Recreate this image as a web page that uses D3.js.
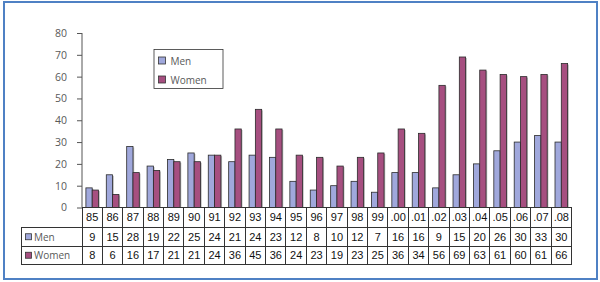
<!DOCTYPE html>
<html>
<head>
<meta charset="utf-8">
<script src="https://cdn.jsdelivr.net/npm/d3@7"></script>
<style>
    body { margin: 0; background: #fff; }
    svg { display: block; }
</style>
</head>
<body>
<div id="chart"></div>
<script>
"use strict";

const categories = ["85", "86", "87", "88", "89", "90", "91", "92", "93", "94", "95", "96",
    "97", "98", "99", ".00", ".01", ".02", ".03", ".04", ".05", ".06", ".07", ".08"];
const series = ["Men", "Women"];
const menValues = [9, 15, 28, 19, 22, 25, 24, 21, 24, 23, 12, 8, 10, 12, 7, 16, 16, 9, 15, 20, 26, 30, 33, 30];
const womenValues = [8, 6, 16, 17, 21, 21, 24, 36, 45, 36, 24, 23, 19, 23, 25, 36, 34, 56, 69, 63, 61, 60, 61, 66];
const yTicks = [0, 10, 20, 30, 40, 50, 60, 70, 80];

const COLORS = {Men: "#A0A8DC", Women: "#A64F80"};
const AXIS_FONT = "'Open Sans', 'DejaVu Sans', sans-serif";
const TABLE_FONT = "'Liberation Sans', Arial, sans-serif";

function buildChart() {
    const width = 600, height = 282;
    const svg = d3.select("#chart").append("svg")
        .attr("width", width)
        .attr("height", height);

    // outer frame
    svg.append("rect")
        .attr("x", 4).attr("y", 2)
        .attr("width", 593).attr("height", 277)
        .attr("fill", "#fff")
        .attr("stroke", "#4F81C4")
        .attr("stroke-width", 2);

    const plotLeft = 82, plotRight = 571.5;
    const y = d3.scaleLinear().domain([0, 80]).range([207.5, 33]);
    const x = d3.scaleBand().domain(categories).range([plotLeft, plotRight]).padding(0);
    const barsW = 12.6;
    const x1 = d3.scaleBand().domain(series).range([0, barsW]);
    const valuesOf = {Men: menValues, Women: womenValues};

    // y axis
    const yAxis = d3.axisLeft(y).tickValues(yTicks).tickSize(5).tickPadding(10);
    const gy = svg.append("g")
        .attr("transform", "translate(" + plotLeft + ",0)")
        .call(yAxis);
    gy.select(".domain").attr("stroke", "#555").attr("d", "M0," + y(80) + "V" + y(0));
    gy.selectAll(".tick line").attr("stroke", "#555");
    gy.selectAll(".tick text")
        .attr("fill", "#595959")
        .style("font-family", AXIS_FONT)
        .style("font-size", "10.5px");

    // bars
    const groups = svg.append("g").selectAll("g")
        .data(categories)
        .enter()
        .append("g")
        .attr("transform", function (d) {
            return "translate(" + (x(d) + (x.bandwidth() - barsW) / 2) + ",0)";
        });
    series.forEach(function (s) {
        // soft shadow
        groups.append("rect")
            .attr("x", function () { return x1(s) + 1.2; })
            .attr("y", function (d, i) { return y(valuesOf[s][i]) + 1; })
            .attr("width", x1.bandwidth())
            .attr("height", function (d, i) { return y(0) - y(valuesOf[s][i]) - 1; })
            .attr("fill", "#b8b8b8");
        groups.append("rect")
            .attr("class", "bar-" + s)
            .attr("x", x1(s))
            .attr("y", function (d, i) { return y(valuesOf[s][i]); })
            .attr("width", x1.bandwidth())
            .attr("height", function (d, i) { return y(0) - y(valuesOf[s][i]); })
            .attr("fill", COLORS[s])
            .attr("stroke", "#2b2b2b")
            .attr("stroke-width", 0.8);
    });

    // data table under the plot
    const rowY = [207.5, 227, 246.5, 264];
    const labelLeft = 21;
    const table = svg.append("g")
        .attr("stroke", "#333")
        .attr("stroke-width", 1)
        .attr("shape-rendering", "crispEdges");
    table.append("line")
        .attr("x1", plotLeft).attr("x2", plotRight)
        .attr("y1", rowY[0]).attr("y2", rowY[0]);
    [1, 2, 3].forEach(function (r) {
        table.append("line")
            .attr("x1", labelLeft).attr("x2", plotRight)
            .attr("y1", rowY[r]).attr("y2", rowY[r]);
    });
    table.append("line")
        .attr("x1", labelLeft).attr("x2", labelLeft)
        .attr("y1", rowY[1]).attr("y2", rowY[3]);
    const bounds = categories.map(function (c) { return x(c); }).concat([plotRight]);
    table.selectAll(".col-line")
        .data(bounds)
        .enter()
        .append("line")
        .attr("class", "col-line")
        .attr("x1", function (d) { return d; })
        .attr("x2", function (d) { return d; })
        .attr("y1", rowY[0]).attr("y2", rowY[3]);

    function cellRow(values, r) {
        svg.append("g").selectAll("text")
            .data(values)
            .enter()
            .append("text")
            .attr("x", function (d, i) { return x(categories[i]) + x.bandwidth() / 2; })
            .attr("y", (rowY[r] + rowY[r + 1]) / 2 + 4)
            .attr("text-anchor", "middle")
            .style("font-family", TABLE_FONT)
            .style("font-size", "11px")
            .attr("fill", "#111")
            .text(function (d) { return d; });
    }
    cellRow(categories, 0);
    cellRow(menValues, 1);
    cellRow(womenValues, 2);

    // row labels with swatches
    series.forEach(function (s, k) {
        const cy = (rowY[k + 1] + rowY[k + 2]) / 2;
        svg.append("rect")
            .attr("x", 25.5).attr("y", cy - 3)
            .attr("width", 6).attr("height", 6)
            .attr("fill", COLORS[s])
            .attr("stroke", "#333")
            .attr("stroke-width", 0.8);
        svg.append("text")
            .attr("x", 34).attr("y", cy + 4)
            .style("font-family", AXIS_FONT)
            .style("font-size", "10px")
            .attr("fill", "#595959")
            .text(s);
    });

    // legend
    const legend = svg.append("g").attr("transform", "translate(154,49.5)");
    legend.append("rect")
        .attr("width", 69).attr("height", 39)
        .attr("fill", "#fff")
        .attr("stroke", "#333")
        .attr("stroke-width", 0.8);
    series.forEach(function (s, k) {
        legend.append("rect")
            .attr("x", 4.5).attr("y", 7.5 + k * 19)
            .attr("width", 7).attr("height", 7)
            .attr("fill", COLORS[s])
            .attr("stroke", "#333")
            .attr("stroke-width", 0.8);
        legend.append("text")
            .attr("x", 16.5).attr("y", 15 + k * 19)
            .style("font-family", AXIS_FONT)
            .style("font-size", "10px")
            .attr("fill", "#595959")
            .text(s);
    });
}

buildChart();
</script>
</body>
</html>
